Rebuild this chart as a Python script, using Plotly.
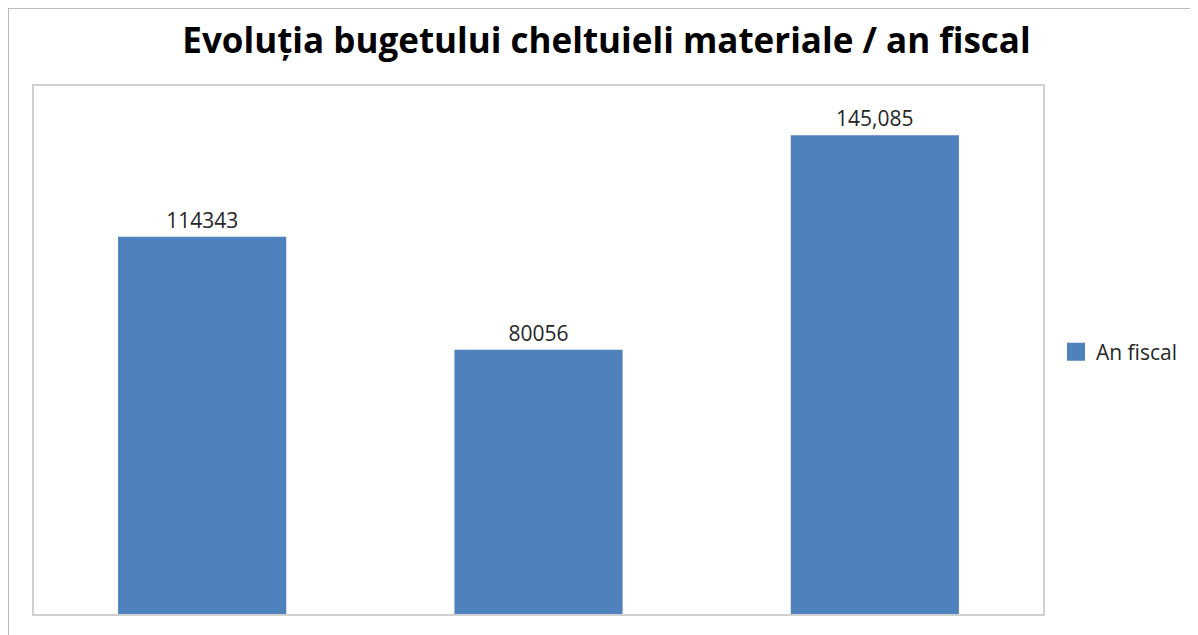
import plotly.graph_objects as go

categories = ["A", "B", "C"]
values = [114343, 80056, 145085]
labels = ["114343", "80056", "145,085"]
series_name = "An fiscal"
title = "Evoluția bugetului cheltuieli materiale / an fiscal"

# page body offset compensation (browser default margin)
OFF_X, OFF_Y = 8, 7
W, H = 1198, 635
# reference plot area in page pixels
PX0, PX1, PY0, PY1 = 34, 1043, 85, 613
L = PX0 - OFF_X
T = PY0 - OFF_Y
pw, ph = PX1 - PX0, PY1 - PY0
R = W - L - pw
B = H - T - ph

FONT = "Open Sans, sans-serif"
BAR_COLOR = "#4F81BD"

fig = go.Figure()
fig.add_trace(go.Bar(
    x=categories, y=values, name=series_name,
    text=labels, textposition="outside", texttemplate="%{text}",
    textfont=dict(family=FONT, size=21, color="#262626"),
    marker=dict(color=BAR_COLOR, line=dict(width=0)),
    width=0.5, showlegend=False, cliponaxis=False,
))
# legend entry with a larger square symbol
fig.add_trace(go.Scatter(
    x=[None], y=[None], mode="markers", name=series_name,
    marker=dict(symbol="square", size=16, color=BAR_COLOR, line=dict(color=BAR_COLOR, width=2)),
    showlegend=True, hoverinfo="skip",
))

def px_x(p):
    return (p - PX0) / pw

def px_y(p):
    return (PY1 - p) / ph

fig.add_shape(type="rect", xref="paper", yref="paper",
              x0=px_x(8), x1=px_x(1215), y0=px_y(650), y1=px_y(7),
              line=dict(color="#a6a6a6", width=1.5), layer="below")

fig.update_layout(
    width=W, height=H,
    margin=dict(l=L, r=R, t=T, b=B),
    paper_bgcolor="white", plot_bgcolor="white",
    title=dict(text="<b>" + title + "</b>", x=(606.5 - OFF_X) / W, xanchor="center",
               y=1 - (40 - OFF_Y) / H, yanchor="middle",
               font=dict(family=FONT, size=35, color="#000000")),
    xaxis=dict(showticklabels=False, ticks="", showgrid=False, zeroline=False,
               showline=True, mirror=True, linecolor="#d0d0d0", linewidth=1.5),
    yaxis=dict(range=[0, 160000], showticklabels=False, ticks="", showgrid=False, zeroline=False,
               showline=True, mirror=True, linecolor="#d0d0d0", linewidth=1.5),
    legend=dict(x=px_x(1056), y=px_y(351), xanchor="left", yanchor="middle",
                font=dict(family=FONT, size=21, color="#262626"),
                itemsizing="trace", bgcolor="rgba(0,0,0,0)"),
)

fig.write_html("out.html")
